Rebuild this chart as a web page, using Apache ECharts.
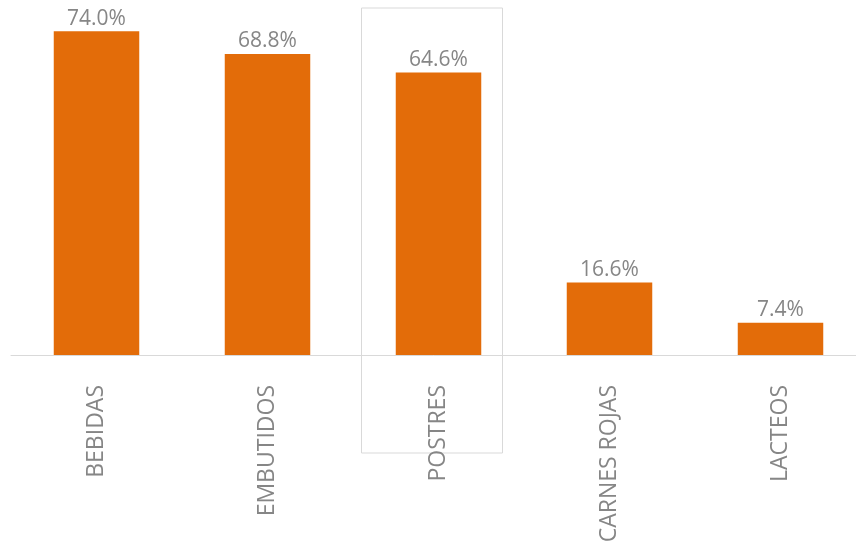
<!DOCTYPE html>
<html>
<head>
<meta charset="utf-8">
<script src="https://cdn.jsdelivr.net/npm/echarts@6/dist/echarts.min.js"></script>
<style>
  html, body { margin: 0; padding: 0; background: #fff; }
  #chart { width: 856px; height: 550px; }
</style>
</head>
<body>
<div id="chart"></div>
<script>
  const categories = ['BEBIDAS', 'EMBUTIDOS', 'POSTRES', 'CARNES ROJAS', 'LACTEOS'];
  const values = [74.0, 68.8, 64.6, 16.6, 7.4];
  const highlighted = 'POSTRES';

  const myChart = echarts.init(document.getElementById('chart'));
  myChart.setOption({
    animation: false,
    grid: { left: 11, top: 5, width: 855, height: 350, outerBoundsMode: 'none', containLabel: false },
    xAxis: {
      type: 'category',
      data: categories,
      axisLine: { lineStyle: { color: '#d9d9d9', width: 1 } },
      axisTick: { show: false },
      axisLabel: {
        rotate: 90,
        margin: 30,
        color: '#868686',
        fontSize: 23,
        fontFamily: 'Open Sans',
      },
    },
    yAxis: {
      type: 'value',
      min: 0,
      max: 80,
      show: false,
    },
    series: [
      {
        type: 'bar',
        data: values,
        barWidth: '50%',
        itemStyle: { color: '#e36c09' },
        label: {
          show: true,
          position: 'top',
          distance: 2,
          color: '#868686',
          fontSize: 21,
          fontFamily: 'Open Sans',
          formatter: (p) => p.value.toFixed(1) + '%',
        },
      },
    ],
  });

  // highlight box around one category (sits a bit left of the bar in the original)
  const cx = myChart.convertToPixel({ xAxisIndex: 0 }, highlighted);
  myChart.setOption({
    graphic: [
      {
        type: 'rect',
        shape: { x: cx - 77, y: 8, width: 141, height: 445 },
        style: { fill: 'none', stroke: '#d9d9d9', lineWidth: 1 },
        z: -1,
      },
    ],
  });
</script>
</body>
</html>
